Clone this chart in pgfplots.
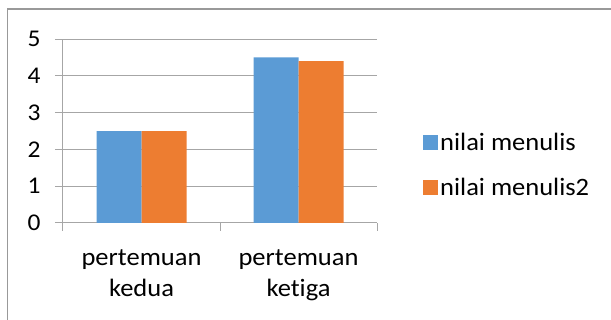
\documentclass[border=0pt]{standalone}
\usepackage{pgfplots}
\pgfplotsset{compat=1.18}
\usepackage{fontspec}
\setmainfont{Carlito}[Ligatures=NoCommon, FakeStretch=1.06]
\definecolor{sblue}{HTML}{5B9BD5}
\definecolor{sorange}{HTML}{ED7D31}
\definecolor{gridc}{HTML}{A6A6A6}
\definecolor{framec}{HTML}{999999}
\begin{document}
\begin{tikzpicture}
\useasboundingbox (0,0) rectangle (611bp,320bp);
\draw[framec, line width=1.2bp] (7.7bp,-1bp) -- (7.7bp,311bp) -- (612bp,311bp);
\begin{axis}[
  at={(63bp,97bp)}, anchor=south west,
  scale only axis, width=314bp, height=184bp,
  xmin=-0.5, xmax=1.5, ymin=0, ymax=5,
  ybar=0pt, bar width=45bp,
  xtick={0,1},
  xticklabels={pertemuan\\kedua, pertemuan\\ketiga},
  xticklabel style={align=center, font=\fontsize{25bp}{31bp}\selectfont, yshift=-15bp},
  every major x tick/.append style={draw=none},
  minor xtick={-0.5,0.5,1.5},
  ytick={0,1,2,3,4,5},
  yticklabel style={font=\fontsize{24bp}{29bp}\selectfont, xshift=-11bp},
  /pgf/number format/assume math mode=true,
  tick align=outside, major tick length=8bp, minor tick length=8bp,
  axis x line*=bottom, axis y line*=left,
  axis line style={gridc, line width=1bp, -},
  tick style={gridc, line width=1bp},
  ymajorgrids, grid style={gridc, line width=1bp},
  legend style={at={(1.137,0.315)}, anchor=west, draw=none, fill=none,
    font=\fontsize{25bp}{29bp}\selectfont, row sep=23bp,
    nodes={inner sep=2bp}},
  legend cell align=left,
  legend image code/.code={\fill[#1] (0bp,-7.5bp) rectangle (15bp,7.5bp);},
]
\addplot[fill=sblue, draw=none] coordinates {(0,2.5) (1,4.5)};
\addplot[fill=sorange, draw=none] coordinates {(0,2.5) (1,4.4)};
\legend{nilai menulis, nilai menulis2}
\end{axis}
\end{tikzpicture}
\end{document}
